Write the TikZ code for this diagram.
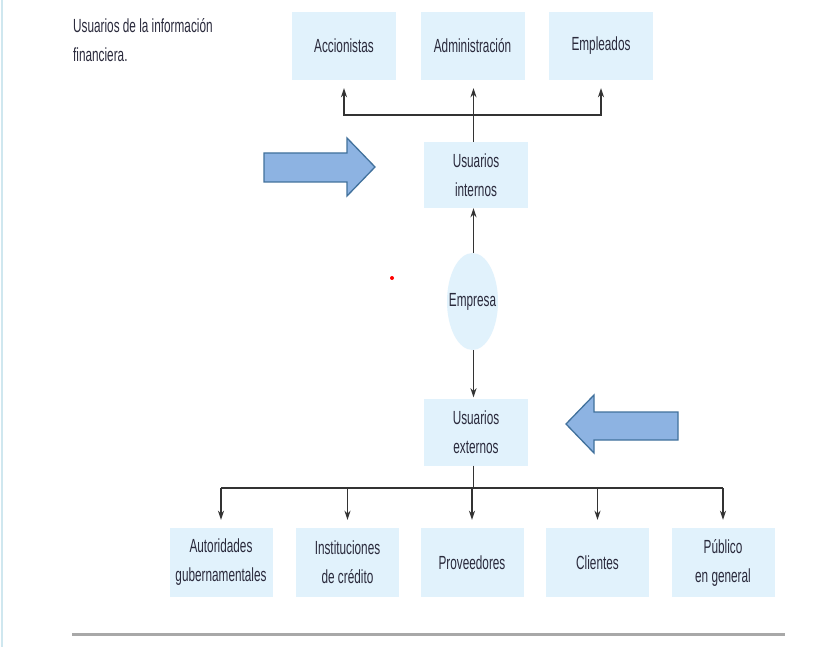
\documentclass[tikz,border=0pt]{standalone}
\usepackage{fontspec}
\setmainfont[FakeStretch=0.62]{Liberation Sans}
\usetikzlibrary{arrows.meta,shapes.geometric}
\definecolor{boxfill}{HTML}{E1F2FC}
\definecolor{txtc}{HTML}{2A2A3C}
\definecolor{linec}{HTML}{333333}
\definecolor{blockfill}{HTML}{8DB3E2}
\definecolor{blockdraw}{HTML}{41719C}
\definecolor{edgec}{HTML}{CFE7EF}
\definecolor{rulec}{HTML}{A8A8A8}
\tikzset{
  txt/.style={font=\fontsize{19pt}{29pt}\selectfont, text=txtc, align=center},
  ubox/.style={txt, fill=boxfill, draw=none, minimum width=104pt, minimum height=68pt, inner sep=0pt},
  conn/.style={draw=linec, line width=1.6pt},
  bar/.style={draw=linec, line width=2.4pt},
  arr/.style={conn, -{Stealth[length=9pt,width=6pt]}},
  blockarrow/.style={fill=blockfill, draw=blockdraw, line width=1.3pt, line join=miter}
}
\begin{document}
\begin{tikzpicture}[x=1pt,y=-1pt]
\useasboundingbox (0,0) rectangle (822,647);
\fill[white] (0,0) rectangle (822,647);
% left edge line
\draw[edgec, line width=2pt] (1.5,0) -- (1.5,647);
% title
\node[txt, align=left, anchor=west, inner sep=0pt] (title) at (73,40) {Usuarios de la información\\financiera.};
% top boxes
\node[ubox] (acc) at (344,46) {Accionistas};
\node[ubox] (adm) at (472.5,46) {Administración};
\node[ubox] (empl) at (601,46) {Empleados};
% internal users
\node[ubox, minimum height=66pt] (int) at (476,175) {Usuarios\\internos};
% company
\node[ellipse, fill=boxfill, minimum width=51pt, minimum height=97pt, inner xsep=-10pt, inner ysep=0pt, txt] (empresa) at (472.5,301.5) {Empresa};
% external users
\node[ubox, minimum height=67pt] (ext) at (476,432) {Usuarios\\externos};
% bottom boxes
\node[ubox, minimum width=103pt, minimum height=69pt] (aut) at (221,562.5) {Autoridades\\gubernamentales};
\node[ubox, minimum width=103pt, minimum height=69pt] (ins) at (347.5,562.5) {Instituciones\\de crédito};
\node[ubox, minimum width=103pt, minimum height=69pt] (pro) at (472,562.5) {Proveedores};
\node[ubox, minimum width=103pt, minimum height=69pt] (cli) at (597.5,562.5) {Clientes};
\node[ubox, minimum width=103pt, minimum height=69pt] (pub) at (723,562.5) {Público\\en general};
% top connectors
\coordinate (topbar) at (473.5,115);
\draw[bar] (acc.south |- topbar) -- (empl.south |- topbar);
\draw[arr, shorten >=8pt] (topbar) -| (acc.south);
\draw[arr, shorten >=8pt] (topbar) -| (empl.south);
\draw[arr, shorten >=8pt] (int.north -| topbar) -- (adm.south -| topbar);
% center connectors
\draw[arr] (empresa.north -| topbar) -- (int.south -| topbar);
\draw[arr, shorten >=1pt] (empresa.south -| topbar) -- (ext.north -| topbar);
% bottom connectors
\coordinate (botbar) at (473.5,488);
\draw[conn] (ext.south -| botbar) -- (botbar);
\draw[bar] (aut.north |- botbar) -- (pub.north |- botbar);
\foreach \b in {aut,ins,pro,cli,pub}{
  \draw[arr, shorten >=8pt] (\b.north |- botbar) -- (\b.north);
}
% block arrows
\draw[blockarrow] (264,153) -- (347,153) -- (347,138) -- (375,167) -- (347,196) -- (347,182) -- (264,182) -- cycle;
\draw[blockarrow] (678,412) -- (594,412) -- (594,395) -- (566,424) -- (594,453) -- (594,440) -- (678,440) -- cycle;
% red dot
\fill[red] (392,278) circle (2pt);
% bottom rule
\draw[rulec, line width=3pt] (72,634) -- (785,634);
\end{tikzpicture}
\end{document}
